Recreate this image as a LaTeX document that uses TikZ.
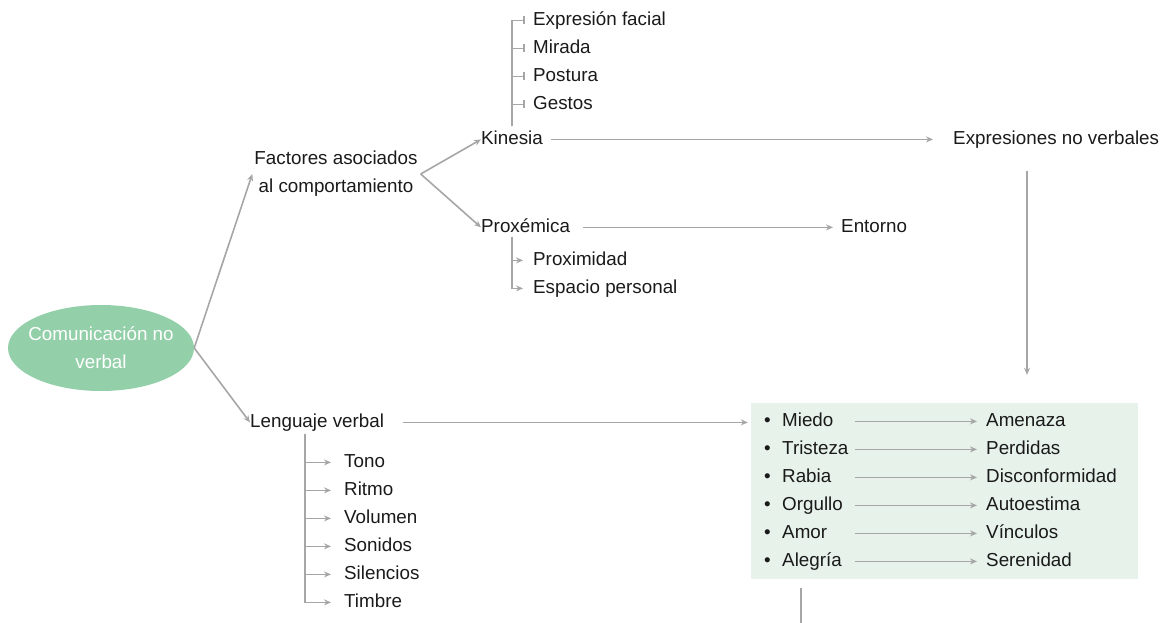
\documentclass[tikz,border=0pt]{standalone}
\usepackage{fontspec}
\setmainfont{Liberation Sans}
\usetikzlibrary{arrows.meta,shapes.geometric}
\definecolor{ln}{HTML}{A6A6A6}
\definecolor{txt}{HTML}{1A1A1A}
\definecolor{ellc}{HTML}{93CFA9}
\definecolor{boxg}{HTML}{E6F2EA}
\begin{document}
\begin{tikzpicture}[x=1pt,y=-1pt,
  lbl/.style={anchor=base west,inner sep=0pt,text=txt,text height=14pt,text depth=3.8pt,font=\fontsize{18.8}{28}\selectfont},
  conn/.style={draw=ln,line width=1.6pt,-{Stealth[length=7pt,width=6pt]}},
  brk/.style={draw=ln,line width=1.6pt,-{Bar[width=8pt,line width=1.6pt]}},
  plain/.style={draw=ln,line width=1.6pt}]
\useasboundingbox (0,0) rectangle (1172,623);
% main ellipse
\node[ellipse,fill=ellc,minimum width=186pt,minimum height=86pt,inner xsep=-8pt,inner ysep=0pt,text=white,align=center,font=\fontsize{18.8}{28}\selectfont] (ell) at (101,348) {Comunicación no\\verbal};
% factores
\node[inner sep=0pt,text=txt,align=center,font=\fontsize{18.8}{28}\selectfont] (fac) at (336,174) {Factores asociados\\al comportamiento};
\node[lbl] (kin) at (481,144.5) {Kinesia};
\node[lbl] (prox) at (481,232.5) {Proxémica};
\node[lbl] (expr) at (953,144.5) {Expresiones no verbales};
\node[lbl] (ent) at (841,232.5) {Entorno};
\node[lbl] (ef) at (533,25.5) {Expresión facial};
\node[lbl] (mir) at (533,53.5) {Mirada};
\node[lbl] (pos) at (533,81.5) {Postura};
\node[lbl] (ges) at (533,109.5) {Gestos};
\node[lbl] (proxi) at (533,265.5) {Proximidad};
\node[lbl] (esp) at (533,293.5) {Espacio personal};
% lenguaje verbal
\node[lbl] (len) at (250,427.5) {Lenguaje verbal};
\node[lbl] (tono) at (344,467.5) {Tono};
\node[lbl] (rit) at (344,495.5) {Ritmo};
\node[lbl] (vol) at (344,523.5) {Volumen};
\node[lbl] (son) at (344,551.5) {Sonidos};
\node[lbl] (sil) at (344,579.5) {Silencios};
\node[lbl] (tim) at (344,607.5) {Timbre};
% emotions box
\node[rectangle,fill=boxg,minimum width=387pt,minimum height=176pt,inner sep=0pt] (box) at (944.5,491) {};
\foreach \yy/\nm in {426.5/b1,454.5/b2,482.5/b3,510.5/b4,538.5/b5,566.5/b6}
  \node[lbl] (\nm) at (764,\yy) {•};
\node[lbl] (mie) at (782,426.5) {Miedo};
\node[lbl] (tri) at (782,454.5) {Tristeza};
\node[lbl] (rab) at (782,482.5) {Rabia};
\node[lbl] (org) at (782,510.5) {Orgullo};
\node[lbl] (amo) at (782,538.5) {Amor};
\node[lbl] (ale) at (782,566.5) {Alegría};
\node[lbl] (ame) at (986,426.5) {Amenaza};
\node[lbl] (per) at (986,454.5) {Perdidas};
\node[lbl] (dis) at (986,482.5) {Disconformidad};
\node[lbl] (aut) at (986,510.5) {Autoestima};
\node[lbl] (vin) at (986,538.5) {Vínculos};
\node[lbl] (ser) at (986,566.5) {Serenidad};
\coordinate (ac) at (855,0);
\coordinate (bot) at (801,623);
% connectors
\draw[conn] (ell.east) -- ([xshift=-2pt]fac.west);
\draw[conn] (ell.east) -- (len.west);
\draw[conn] ([xshift=3pt]fac.east) -- (kin.west);
\draw[conn] ([xshift=3pt]fac.east) -- (prox.west);
\draw[conn] ([xshift=8pt]kin.east) -- ([xshift=-20pt]expr.west);
\draw[conn] ([xshift=13pt]prox.east) -- ([xshift=-8pt]ent.west);
\foreach \t in {ef,mir,pos,ges}
  \draw[brk] ([yshift=4pt]kin.north) |- ([xshift=-8pt]\t.west);
\foreach \t in {proxi,esp}
  \draw[conn] ([xshift=31pt]prox.south west) |- ([xshift=-10pt]\t.west);
\foreach \t in {tono,rit,vol,son,sil,tim}
  \draw[conn] ([xshift=55pt,yshift=-2pt]len.south west) |- ([xshift=-13pt]\t.west);
\draw[conn] ([xshift=74pt,yshift=-22pt]expr.south west) -- ([xshift=82.5pt,yshift=28pt]box.north);
\draw[conn] ([xshift=19pt]len.east) -- ([xshift=-3pt]box.west |- len.east);
\draw[conn] (mie.east -| ac) -- ([xshift=-9pt]ame.west);
\draw[conn] ([xshift=6pt]tri.east) -- ([xshift=-9pt]per.west);
\draw[conn] (rab.east -| ac) -- ([xshift=-9pt]dis.west);
\draw[conn] (org.east -| ac) -- ([xshift=-9pt]aut.west);
\draw[conn] (amo.east -| ac) -- ([xshift=-9pt]vin.west);
\draw[conn] (ale.east -| ac) -- ([xshift=-9pt]ser.west);
\draw[plain] ([yshift=-9pt]box.south -| bot) -- (bot);
\end{tikzpicture}
\end{document}
